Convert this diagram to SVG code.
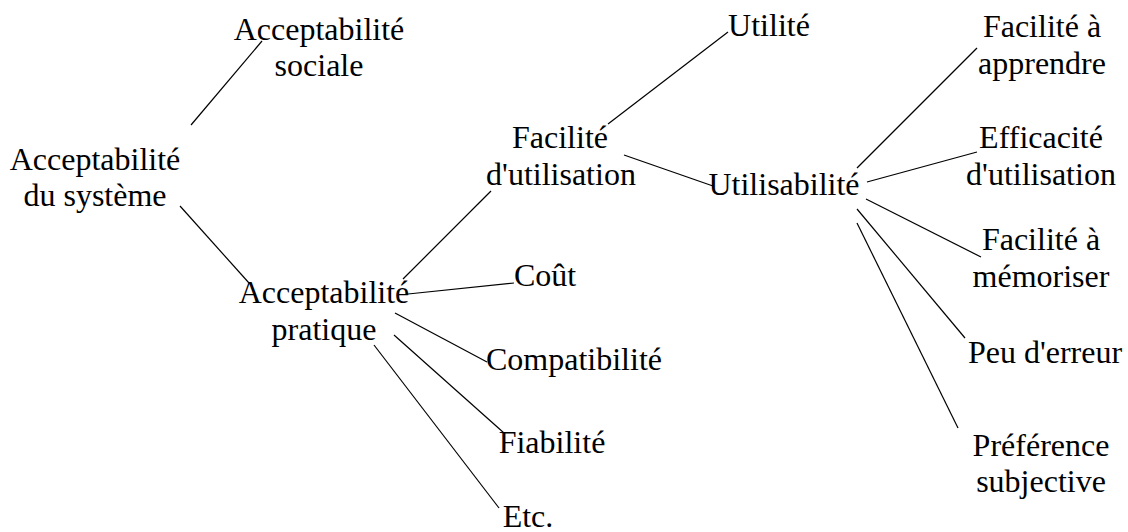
<svg xmlns="http://www.w3.org/2000/svg" width="1128" height="532" viewBox="0 0 1128 532">
<style>
text{font-family:"Liberation Serif","Times New Roman",serif;font-size:32px;fill:#000;text-anchor:middle}
.c line{stroke:#000;stroke-width:1.2}
</style>
<rect width="1128" height="532" fill="#fff"/>
<g class="c" id="connectors">
<line x1="191" y1="125" x2="262" y2="41"/>
<line x1="180" y1="206" x2="249" y2="283"/>
<line x1="403" y1="279" x2="491" y2="191"/>
<line x1="408" y1="294" x2="514" y2="283"/>
<line x1="395" y1="313" x2="487" y2="362"/>
<line x1="394" y1="335" x2="504" y2="433"/>
<line x1="374" y1="345" x2="499" y2="508"/>
<line x1="608" y1="124" x2="728" y2="32"/>
<line x1="624" y1="155" x2="713" y2="186"/>
<line x1="857" y1="168" x2="977" y2="48"/>
<line x1="867" y1="182" x2="977" y2="152"/>
<line x1="866" y1="199" x2="981" y2="257"/>
<line x1="857" y1="209" x2="965" y2="338"/>
<line x1="857" y1="223" x2="958" y2="428"/>
</g>
<g id="n-systeme"><text x="95" y="170">Acceptabilité</text><text x="95" y="206">du système</text></g>
<g id="n-sociale"><text x="319" y="40">Acceptabilité</text><text x="319" y="76">sociale</text></g>
<g id="n-pratique"><text x="324" y="303">Acceptabilité</text><text x="324" y="340">pratique</text></g>
<g id="n-facilite-util"><text x="560" y="148">Facilité</text><text x="561" y="185">d'utilisation</text></g>
<g id="n-cout"><text x="545" y="286">Coût</text></g>
<g id="n-compat"><text x="574" y="370">Compatibilité</text></g>
<g id="n-fiab"><text x="552" y="453">Fiabilité</text></g>
<g id="n-etc"><text x="528" y="527">Etc.</text></g>
<g id="n-utilite"><text x="769" y="36">Utilité</text></g>
<g id="n-utilisabilite"><text x="784" y="195">Utilisabilité</text></g>
<g id="n-apprendre"><text x="1042" y="37">Facilité à</text><text x="1042" y="74">apprendre</text></g>
<g id="n-efficacite"><text x="1041" y="148">Efficacité</text><text x="1041" y="185">d'utilisation</text></g>
<g id="n-memoriser"><text x="1041" y="250">Facilité à</text><text x="1041" y="287">mémoriser</text></g>
<g id="n-erreur"><text x="1045" y="363">Peu d'erreur</text></g>
<g id="n-preference"><text x="1041" y="456">Préférence</text><text x="1041" y="492">subjective</text></g>
</svg>
